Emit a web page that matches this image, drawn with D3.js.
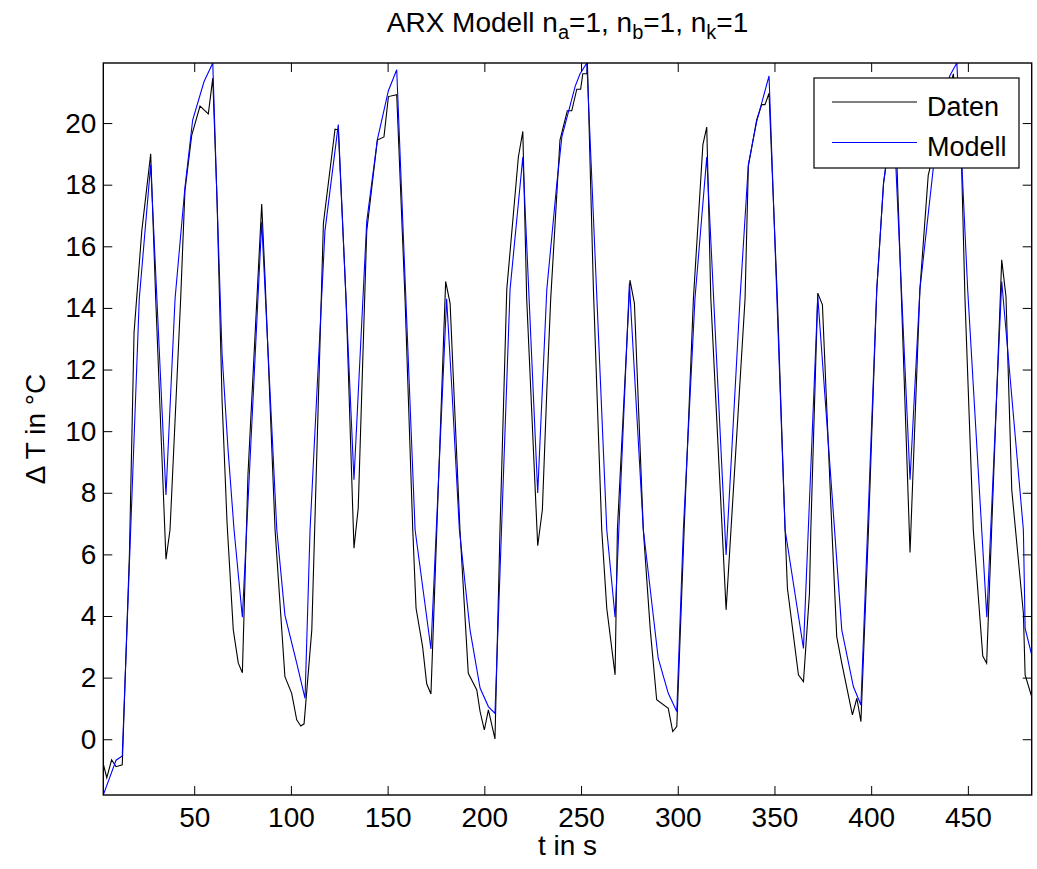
<!DOCTYPE html>
<html>
<head>
<meta charset="utf-8">
<script src="https://cdn.jsdelivr.net/npm/d3@7"></script>
<style>
body { margin: 0; background: #fff; }
svg { display: block; font-family: "Liberation Sans", Arial, sans-serif; }
</style>
</head>
<body>
<svg id="chart" width="1037" height="869"></svg>
<script>
// measured series (t in s, delta T in degC)
const datenT = [3, 4.8, 7.3, 9.6, 12.8, 16.5, 18.9, 22.9, 27.5, 30.1, 35.4, 37.5, 43.0, 45.2, 48.7, 53.0, 57.3, 59.6,
    61.8, 64.4, 67.0, 70.2, 72.8, 74.9, 77.8, 84.9, 86.6, 91.8, 96.9, 100.4, 103.0, 105.1, 106.8, 110.8,
    116.8, 122.8, 124.5, 128.5, 132.6, 134.8, 139.2, 144.7, 148.1, 150.4, 154.7, 159.0, 163.0, 164.7, 168.1,
    170.2, 172.4, 180.0, 182.3, 187.4, 191.7, 196.1, 197.8, 200.0, 202.1, 205.5, 208.1, 211.6, 217.6, 219.9,
    221.9, 227.6, 230.0, 232.3, 234.3, 239.1, 242.9, 245.2, 247.8, 249.8, 250.9, 253.0, 253.3, 256.4, 260.7,
    263.3, 267.6, 268.8, 275.3, 277.6, 282.2, 285.8, 289.1, 295.1, 297.4, 299.5, 303.3, 308.1, 313.0, 315.0,
    317.1, 325.0, 334.8, 336.5, 340.8, 343.4, 345.1, 347.2, 351.5, 355.5, 356.7, 362.4, 365.0, 368.1, 368.8,
    372.4, 374.8, 379.7, 382.2, 384.8, 390.3, 392.6, 394.7, 398.6, 402.9, 406.4, 408.1, 411.0, 413.4, 420.1,
    425.2, 429.5, 437.9, 442.5, 446.8, 448.5, 452.8, 457.7, 459.7, 467.5, 469.7, 472.7, 478.7, 479.6, 483];
const datenY = [-0.8, -1.25, -0.67, -0.89, -0.83, 6.0, 13.2, 16.5, 19.0, 14.3, 5.84, 6.8, 14.3, 17.8, 19.6, 20.55, 20.3, 21.46,
    17.5, 11.0, 7.0, 3.55, 2.47, 2.16, 8.6, 17.37, 15.0, 6.8, 2.03, 1.49, 0.63, 0.43, 0.5, 3.55,
    16.75, 19.8, 19.78, 14.3, 6.2, 7.5, 16.5, 19.45, 19.55, 20.86, 20.92, 14.3, 6.8, 4.25, 3.0,
    1.8, 1.47, 14.86, 14.15, 6.8, 2.14, 1.6, 0.9, 0.3, 0.95, 0.01, 6.8, 14.6, 18.9, 19.73,
    14.3, 6.28, 7.44, 11.3, 14.27, 19.45, 20.4, 20.4, 21.1, 21.1, 21.6, 21.6, 21.95, 14.6, 6.8,
    4.25, 2.09, 6.8, 14.9, 14.15, 6.8, 3.55, 1.28, 1.0, 0.25, 0.41, 6.8, 14.3, 19.3, 19.87,
    14.3, 4.2, 14.3, 18.6, 20.1, 20.6, 20.6, 20.97, 14.3, 6.8, 4.9, 2.09, 1.87, 4.74, 6.8,
    14.48, 14.1, 6.8, 3.33, 2.47, 0.79, 1.33, 0.57, 6.8, 14.6, 18.05, 18.8, 20.3, 18.5, 6.06,
    14.6, 18.3, 20.5, 21.6, 18.5, 14.3, 6.8, 2.7, 2.47, 15.56, 14.37, 8.09, 4.09, 2.09, 1.38];

// ARX model output
const modellT = [3, 9.6, 12.8, 21.6, 27.5, 35.4, 40.1, 45.2, 49.2, 55.1, 59.6, 61.8, 64.4, 67.5, 70.6, 74.9,
    84.9, 92.7, 96.9, 103.0, 107.3, 109.9, 117.6, 124.5, 132.6, 139.2, 144.7, 150.4, 154.7, 164.2, 172.4,
    180.5, 183.1, 187.1, 192.6, 197.8, 202.1, 205.5, 213.3, 219.9, 227.6, 232.3, 237.5, 240.1, 247.0, 249.5,
    253.0, 263.3, 267.6, 275.0, 282.2, 289.9, 295.1, 299.5, 302.9, 308.9, 315.0, 325.0, 332.2, 336.5, 340.8,
    347.2, 355.5, 365.0, 372.4, 384.8, 390.8, 394.7, 402.9, 406.4, 411.4, 420.1, 425.2, 436.1, 440.8, 444.3,
    447.0, 449.9, 459.8, 467.5, 478.7, 479.6, 483];
const modellY = [-1.81, -0.68, -0.54, 14.3, 18.65, 7.93, 14.3, 17.9, 20.1, 21.35, 21.95, 17.5, 12.5, 9.4, 6.8, 3.96,
    16.8, 6.8, 4.03, 2.47, 1.33, 6.8, 16.5, 19.95, 8.42, 16.8, 19.46, 21.05, 21.73, 6.8, 2.93,
    14.3, 11.5, 6.8, 3.55, 1.66, 1.06, 0.84, 14.6, 18.9, 7.99, 14.6, 18.05, 19.56, 21.2, 21.6,
    21.95, 6.8, 3.96, 14.8, 6.8, 2.63, 1.49, 0.9, 6.8, 14.3, 18.9, 5.98, 14.3, 18.65, 20.05,
    21.53, 6.8, 2.95, 14.37, 3.55, 1.71, 1.11, 14.6, 18.05, 20.5, 8.42, 14.6, 20.8, 21.55, 21.95,
    18.5, 14.6, 3.96, 14.86, 6.8, 3.6, 2.74];

const xTicks = [50, 100, 150, 200, 250, 300, 350, 400, 450];
const yTicks = [0, 2, 4, 6, 8, 10, 12, 14, 16, 18, 20];
const legendNames = ['Daten', 'Modell'];
const lineColors = ['#000000', '#0000ff'];

const width = 1037;
const height = 869;
const margin = {top: 63, right: 5.3, bottom: 74, left: 103.3};
const fontSize = 28;

const svg = d3.select('#chart');

const xScale = d3.scaleLinear()
    .domain([3, 483])
    .range([margin.left, width - margin.right]);

const yScale = d3.scaleLinear()
    .domain([-1.81, 21.95])
    .range([height - margin.bottom, margin.top]);

const plotW = width - margin.left - margin.right;
const plotH = height - margin.top - margin.bottom;

svg.append('clipPath').attr('id', 'plotclip')
    .append('rect')
    .attr('x', margin.left)
    .attr('y', margin.top)
    .attr('width', plotW)
    .attr('height', plotH);

const line = d3.line()
    .x(d => xScale(d[0]))
    .y(d => yScale(d[1]));

const series = [
    d3.zip(datenT, datenY),
    d3.zip(modellT, modellY)
];

svg.append('g')
    .attr('clip-path', 'url(#plotclip)')
    .selectAll('path')
    .data(series)
    .enter()
    .append('path')
    .attr('d', line)
    .attr('fill', 'none')
    .attr('stroke', (d, i) => lineColors[i])
    .attr('stroke-width', 1.1);

// axes, MATLAB style: ticks point inward, mirrored on top and right
const tickLen = 9;

svg.append('g')
    .attr('transform', `translate(0, ${height - margin.bottom})`)
    .call(d3.axisBottom(xScale).tickValues(xTicks).tickSize(-tickLen).tickPadding(12));

svg.append('g')
    .attr('transform', `translate(${margin.left}, 0)`)
    .call(d3.axisLeft(yScale).tickValues(yTicks).tickSize(-tickLen).tickPadding(7));

svg.append('g')
    .attr('transform', `translate(0, ${margin.top})`)
    .call(d3.axisTop(xScale).tickValues(xTicks).tickSize(-tickLen).tickFormat(''));

svg.append('g')
    .attr('transform', `translate(${width - margin.right}, 0)`)
    .call(d3.axisRight(yScale).tickValues(yTicks).tickSize(-tickLen).tickFormat(''));

svg.selectAll('.domain').remove();
svg.selectAll('.tick line').attr('stroke', '#000').attr('stroke-width', 1);
svg.selectAll('.tick text')
    .attr('fill', '#000')
    .style('font-size', fontSize + 'px')
    .style('font-family', '"Liberation Sans", Arial, sans-serif');

svg.append('rect')
    .attr('x', margin.left)
    .attr('y', margin.top)
    .attr('width', plotW)
    .attr('height', plotH)
    .attr('fill', 'none')
    .attr('stroke', '#000')
    .attr('stroke-width', 1.4);

// title with subscripts
const title = svg.append('text')
    .attr('x', margin.left + plotW / 2)
    .attr('y', 32)
    .attr('text-anchor', 'middle')
    .style('font-size', fontSize + 'px')
    .attr('fill', '#000');
const titleParts = [['ARX Modell n', false], ['a', true], ['=1, n', false], ['b', true], ['=1, n', false], ['k', true], ['=1', false]];
titleParts.forEach(([txt, sub], i) => {
    title.append('tspan')
        .attr('dy', sub ? 7 : (i > 0 ? -7 : 0))
        .style('font-size', sub ? '20px' : fontSize + 'px')
        .text(txt);
});

svg.append('text')
    .attr('x', margin.left + plotW / 2)
    .attr('y', 855)
    .attr('text-anchor', 'middle')
    .style('font-size', fontSize + 'px')
    .text('t in s');

svg.append('text')
    .attr('transform', `translate(45, ${margin.top + plotH / 2}) rotate(-90)`)
    .attr('text-anchor', 'middle')
    .style('font-size', fontSize + 'px')
    .text('\u0394 T in \u00b0C');

// legend
const legend = svg.append('g').attr('transform', 'translate(814, 78)');
legend.append('rect')
    .attr('width', 205)
    .attr('height', 90)
    .attr('fill', '#fff')
    .attr('stroke', '#000')
    .attr('stroke-width', 1.2);

legendNames.forEach((name, i) => {
    const y = 24 + i * 40.5;
    legend.append('line')
        .attr('x1', 18).attr('x2', 103)
        .attr('y1', y).attr('y2', y)
        .attr('stroke', lineColors[i])
        .attr('stroke-width', 1.1);
    legend.append('text')
        .attr('x', 113)
        .attr('y', y + 13.5)
        .style('font-size', '27px')
        .text(name);
});
</script>
</body>
</html>
